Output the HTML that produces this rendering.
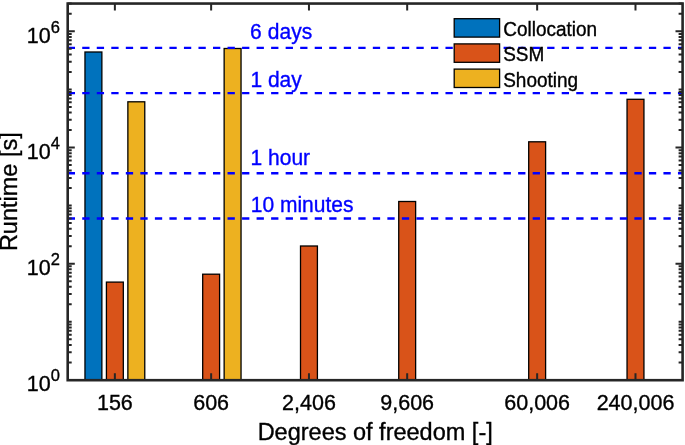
<!DOCTYPE html>
<html><head><meta charset="utf-8"><title>Runtime vs degrees of freedom</title><style>
html,body{margin:0;padding:0;background:#fff;width:685px;height:445px;overflow:hidden}
svg{display:block}
text{font-family:"Liberation Sans",Arial,Helvetica,sans-serif;stroke-width:0.35px;paint-order:stroke}
</style></head><body>
<svg width="685" height="445" viewBox="0 0 685 445">
<rect x="0" y="0" width="685" height="445" fill="#fff"/>
<g stroke="#000" stroke-width="1.3">
<rect x="84.97" y="52.00" width="16.90" height="328.20" fill="#0072BD"/>
<rect x="106.42" y="282.10" width="16.90" height="98.10" fill="#D95319"/>
<rect x="127.87" y="101.80" width="16.90" height="278.40" fill="#EDB120"/>
<rect x="202.69" y="274.20" width="16.90" height="106.00" fill="#D95319"/>
<rect x="224.14" y="48.50" width="16.90" height="331.70" fill="#EDB120"/>
<rect x="300.51" y="246.00" width="16.90" height="134.20" fill="#D95319"/>
<rect x="398.73" y="201.50" width="16.90" height="178.70" fill="#D95319"/>
<rect x="528.70" y="141.80" width="16.90" height="238.40" fill="#D95319"/>
<rect x="627.04" y="99.30" width="16.90" height="280.90" fill="#D95319"/>
</g>
<line x1="67.7" y1="47.88" x2="682.6" y2="47.88" stroke="#0000FF" stroke-width="2.4" stroke-dasharray="7.3 7.23"/>
<line x1="67.7" y1="93.09" x2="682.6" y2="93.09" stroke="#0000FF" stroke-width="2.4" stroke-dasharray="7.3 7.23"/>
<line x1="67.7" y1="173.28" x2="682.6" y2="173.28" stroke="#0000FF" stroke-width="2.4" stroke-dasharray="7.3 7.23"/>
<line x1="67.7" y1="218.49" x2="682.6" y2="218.49" stroke="#0000FF" stroke-width="2.4" stroke-dasharray="7.3 7.23"/>
<text transform="translate(249.9 39.00) scale(1 1.05)" font-size="21" fill="#0000FF" stroke="#0000FF" letter-spacing="0.12">6 days</text>
<text transform="translate(250.4 86.60) scale(1 1.05)" font-size="21" fill="#0000FF" stroke="#0000FF">1 day</text>
<text transform="translate(250.6 165.30) scale(1 1.05)" font-size="21" fill="#0000FF" stroke="#0000FF">1 hour</text>
<text transform="translate(250.8 211.60) scale(1 1.05)" font-size="21" fill="#0000FF" stroke="#0000FF">10 minutes</text>
<path d="M67.70 379.90h7.1M682.60 379.90h-7.1M67.70 362.41h4.0M682.60 362.41h-4.0M67.70 352.18h4.0M682.60 352.18h-4.0M67.70 344.92h4.0M682.60 344.92h-4.0M67.70 339.29h4.0M682.60 339.29h-4.0M67.70 334.69h4.0M682.60 334.69h-4.0M67.70 330.80h4.0M682.60 330.80h-4.0M67.70 327.43h4.0M682.60 327.43h-4.0M67.70 324.46h4.0M682.60 324.46h-4.0M67.70 321.80h4.0M682.60 321.80h-4.0M67.70 304.31h4.0M682.60 304.31h-4.0M67.70 294.08h4.0M682.60 294.08h-4.0M67.70 286.82h4.0M682.60 286.82h-4.0M67.70 281.19h4.0M682.60 281.19h-4.0M67.70 276.59h4.0M682.60 276.59h-4.0M67.70 272.70h4.0M682.60 272.70h-4.0M67.70 269.33h4.0M682.60 269.33h-4.0M67.70 266.36h4.0M682.60 266.36h-4.0M67.70 263.70h7.1M682.60 263.70h-7.1M67.70 246.21h4.0M682.60 246.21h-4.0M67.70 235.98h4.0M682.60 235.98h-4.0M67.70 228.72h4.0M682.60 228.72h-4.0M67.70 223.09h4.0M682.60 223.09h-4.0M67.70 218.49h4.0M682.60 218.49h-4.0M67.70 214.60h4.0M682.60 214.60h-4.0M67.70 211.23h4.0M682.60 211.23h-4.0M67.70 208.26h4.0M682.60 208.26h-4.0M67.70 205.60h4.0M682.60 205.60h-4.0M67.70 188.11h4.0M682.60 188.11h-4.0M67.70 177.88h4.0M682.60 177.88h-4.0M67.70 170.62h4.0M682.60 170.62h-4.0M67.70 164.99h4.0M682.60 164.99h-4.0M67.70 160.39h4.0M682.60 160.39h-4.0M67.70 156.50h4.0M682.60 156.50h-4.0M67.70 153.13h4.0M682.60 153.13h-4.0M67.70 150.16h4.0M682.60 150.16h-4.0M67.70 147.50h7.1M682.60 147.50h-7.1M67.70 130.01h4.0M682.60 130.01h-4.0M67.70 119.78h4.0M682.60 119.78h-4.0M67.70 112.52h4.0M682.60 112.52h-4.0M67.70 106.89h4.0M682.60 106.89h-4.0M67.70 102.29h4.0M682.60 102.29h-4.0M67.70 98.40h4.0M682.60 98.40h-4.0M67.70 95.03h4.0M682.60 95.03h-4.0M67.70 92.06h4.0M682.60 92.06h-4.0M67.70 89.40h4.0M682.60 89.40h-4.0M67.70 71.91h4.0M682.60 71.91h-4.0M67.70 61.68h4.0M682.60 61.68h-4.0M67.70 54.42h4.0M682.60 54.42h-4.0M67.70 48.79h4.0M682.60 48.79h-4.0M67.70 44.19h4.0M682.60 44.19h-4.0M67.70 40.30h4.0M682.60 40.30h-4.0M67.70 36.93h4.0M682.60 36.93h-4.0M67.70 33.96h4.0M682.60 33.96h-4.0M67.70 31.30h7.1M682.60 31.30h-7.1M67.70 13.81h4.0M682.60 13.81h-4.0M67.70 3.58h4.0M682.60 3.58h-4.0M114.87 380.2v-7.0M114.87 3.55v7.0M211.14 380.2v-7.0M211.14 3.55v7.0M308.96 380.2v-7.0M308.96 3.55v7.0M407.18 380.2v-7.0M407.18 3.55v7.0M537.15 380.2v-7.0M537.15 3.55v7.0M635.49 380.2v-7.0M635.49 3.55v7.0" stroke="#262626" stroke-width="2.0" fill="none"/>
<rect x="67.7" y="3.55" width="614.90" height="376.65" fill="none" stroke="#262626" stroke-width="2.6"/>
<text x="50.7" y="391.10" font-size="21.5" text-anchor="end" fill="#000" stroke="#000">10</text>
<text x="59.9" y="381.40" font-size="16.5" text-anchor="end" fill="#000" stroke="#000">0</text>
<text x="50.7" y="274.90" font-size="21.5" text-anchor="end" fill="#000" stroke="#000">10</text>
<text x="59.9" y="265.20" font-size="16.5" text-anchor="end" fill="#000" stroke="#000">2</text>
<text x="50.7" y="158.70" font-size="21.5" text-anchor="end" fill="#000" stroke="#000">10</text>
<text x="59.9" y="149.00" font-size="16.5" text-anchor="end" fill="#000" stroke="#000">4</text>
<text x="50.7" y="42.50" font-size="21.5" text-anchor="end" fill="#000" stroke="#000">10</text>
<text x="59.9" y="32.80" font-size="16.5" text-anchor="end" fill="#000" stroke="#000">6</text>
<text x="114.87" y="409.6" font-size="21.5" text-anchor="middle" fill="#000" stroke="#000">156</text>
<text x="211.14" y="409.6" font-size="21.5" text-anchor="middle" fill="#000" stroke="#000">606</text>
<text x="308.96" y="409.6" font-size="21.5" text-anchor="middle" fill="#000" stroke="#000">2,406</text>
<text x="407.18" y="409.6" font-size="21.5" text-anchor="middle" fill="#000" stroke="#000">9,606</text>
<text x="537.15" y="409.6" font-size="21.5" text-anchor="middle" fill="#000" stroke="#000">60,006</text>
<text x="635.49" y="409.6" font-size="21.5" text-anchor="middle" fill="#000" stroke="#000">240,006</text>
<text x="375.2" y="439.6" font-size="23.5" text-anchor="middle" fill="#000" stroke="#000">Degrees of freedom [-]</text>
<text transform="translate(17.2 191.7) rotate(-90)" x="0" y="0" font-size="23.5" text-anchor="middle" fill="#000" stroke="#000">Runtime [s]</text>
<rect x="454.2" y="18.70" width="45.4" height="18.4" fill="#0072BD" stroke="#000" stroke-width="1.3"/>
<text transform="translate(503.2 36.10) scale(1 1.07)" font-size="19" fill="#000" stroke="#000">Collocation</text>
<rect x="454.2" y="43.90" width="45.4" height="18.4" fill="#D95319" stroke="#000" stroke-width="1.3"/>
<text transform="translate(503.2 61.30) scale(1 1.07)" font-size="19" fill="#000" stroke="#000">SSM</text>
<rect x="454.2" y="69.10" width="45.4" height="18.4" fill="#EDB120" stroke="#000" stroke-width="1.3"/>
<text transform="translate(503.2 86.50) scale(1 1.07)" font-size="19" fill="#000" stroke="#000">Shooting</text>
</svg></body></html>
